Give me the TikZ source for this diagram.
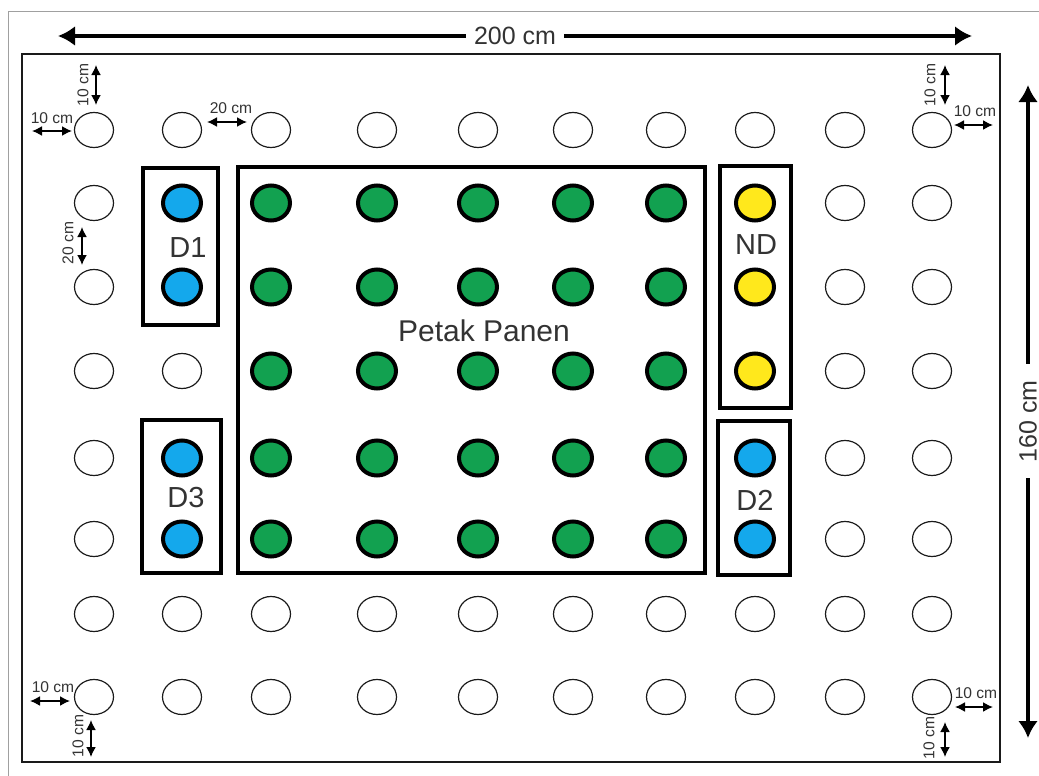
\documentclass[tikz,border=0pt]{standalone}
\usepackage{fontspec}
\setmainfont{Liberation Sans}
\usepackage{tikz}
\usepackage{xcolor}
\usetikzlibrary{arrows.meta,shapes.geometric}
\definecolor{ink}   {HTML}{1A1A1A}
\definecolor{label} {HTML}{333333}
\definecolor{frame} {HTML}{A0A0A0}
\definecolor{daun}  {HTML}{12A150}
\definecolor{biru}  {HTML}{14A8EC}
\definecolor{kuning}{HTML}{FFE81C}
\tikzset{
  hole/.style={ellipse,draw=ink,line width=0.6pt,fill=white,
               minimum width=19.5pt,minimum height=17.5pt,inner sep=0pt},
  plant/.style={ellipse,draw=black,line width=2pt,
                minimum width=19pt,minimum height=17.5pt,inner sep=0pt},
  plotbox/.style={draw=black,line width=2.2pt},
  bigdim/.style={line width=2pt,{Latex[length=8.5pt,width=10pt]}-{Latex[length=8.5pt,width=10pt]}},
  smalldim/.style={line width=0.8pt,{Latex[length=5pt,width=5pt]}-{Latex[length=5pt,width=5pt]}},
  smalltxt/.style={text=label,font=\fontsize{7.8}{9}\selectfont,inner sep=0pt},
  bigtxt/.style={text=label,font=\fontsize{12.5}{14}\selectfont,fill=white,inner sep=0pt},
  plottxt/.style={text=label,font=\fontsize{14.5}{16}\selectfont,inner sep=0pt},
}

\begin{document}
\begin{tikzpicture}[x=0.5pt,y=-0.5pt]
  \useasboundingbox (0,0) rectangle (1039,776);
  \draw[frame,line width=0.5pt] (8,776) -- (8,11) -- (1039,11);
  \draw[ink,line width=1.4pt] (22,54) rectangle (1000,762);

  % tanaman pinggir
  \foreach \i/\x in {1/94,9/845,10/932}
    \foreach \j/\y in {1/130,2/203,3/287,4/371,5/458,6/539,7/614,8/697}
      \node[hole] (h-\i-\j) at (\x,\y) {};
  \foreach \i/\x in {2/182,3/271,4/377,5/478,6/573,7/666,8/755}
    \foreach \j/\y in {1/130,7/614,8/697}
      \node[hole] (h-\i-\j) at (\x,\y) {};
  \node[hole] (h-2-4) at (182,371) {};

  % petak panen
  \foreach \i/\x in {3/271,4/377,5/478,6/573,7/666}
    \foreach \j/\y in {2/203,3/287,4/371,5/458,6/539}
      \node[plant,fill=daun] (p-\i-\j) at (\x,\y) {};
  \foreach \j/\y in {2/203,3/287,5/458,6/539}
    \node[plant,fill=biru] (p-2-\j) at (182,\y) {};
  \foreach \j/\y in {5/458,6/539}
    \node[plant,fill=biru] (p-8-\j) at (755,\y) {};
  \foreach \j/\y in {2/203,3/287,4/371}
    \node[plant,fill=kuning] (p-8-\j) at (755,\y) {};

  \draw[plotbox] (143,168) rectangle (218,325);
  \draw[plotbox] (142,420) rectangle (221,573);
  \draw[plotbox] (238,167) rectangle (705,573);
  \draw[plotbox] (720,166) rectangle (791,408);
  \draw[plotbox] (718,421) rectangle (790,575);

  \node[plottxt] (lblD1) at (188,248) {D1};
  \node[plottxt] (lblD3) at (186,498) {D3};
  \node[plottxt] (lblND) at (756,245) {ND};
  \node[plottxt] (lblD2) at (755,500) {D2};
  \node[plottxt,font=\fontsize{15}{17}\selectfont] (lblPanen) at (484,331) {Petak Panen};

  % ukuran petak
  \coordinate (lebarL) at (58,36);
  \coordinate (lebarR) at (972,36);
  \coordinate (tinggiT) at (1028,85);
  \coordinate (tinggiB) at (1028,738);
  \draw[bigdim] (lebarL) -- (lebarR)
    node[bigtxt,pos=0.5,inner xsep=4pt] {200 cm};
  \draw[bigdim] (tinggiT) -- (tinggiB)
    node[bigtxt,pos=0.515,rotate=90,inner xsep=8pt] {160 cm};

  % jarak tanam
  \coordinate (a1) at (96,65);   \coordinate (a2) at (96,105);
  \coordinate (b1) at (32,131);  \coordinate (b2) at (72,131);
  \coordinate (c1) at (207,122); \coordinate (c2) at (247,122);
  \coordinate (d1) at (945,65);  \coordinate (d2) at (945,105);
  \coordinate (e1) at (954,125); \coordinate (e2) at (993,125);
  \coordinate (f1) at (82,227);  \coordinate (f2) at (82,265);
  \coordinate (g1) at (30,701);  \coordinate (g2) at (70,701);
  \coordinate (k1) at (91,720);  \coordinate (k2) at (91,757);
  \coordinate (m1) at (955,707); \coordinate (m2) at (993,707);
  \coordinate (n1) at (945,722); \coordinate (n2) at (945,757);
  \foreach \p in {a,b,c,d,e,f,g,k,m,n}
    \draw[smalldim] (\p1) -- (\p2);

  \node[smalltxt,rotate=90] (ta) at (83,85) {10 cm};
  \node[smalltxt] (tb) at (52,118) {10 cm};
  \node[smalltxt] (tc) at (231,108) {20 cm};
  \node[smalltxt,rotate=90] (td) at (930,85) {10 cm};
  \node[smalltxt] (te) at (975,111) {10 cm};
  \node[smalltxt,rotate=90] (tf) at (68,243) {20 cm};
  \node[smalltxt] (tg) at (53,687) {10 cm};
  \node[smalltxt,rotate=90] (tk) at (78,736) {10 cm};
  \node[smalltxt] (tm) at (976,693) {10 cm};
  \node[smalltxt,rotate=90] (tn) at (929,738) {10 cm};
\end{tikzpicture}
\end{document}
